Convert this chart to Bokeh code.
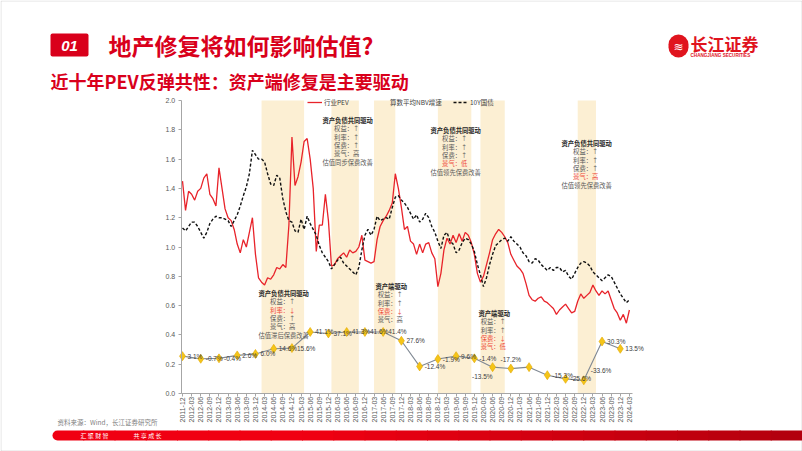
import numpy as np
from bokeh.plotting import figure
from bokeh.models import (Range1d, FixedTicker, PrintfTickFormatter, Label,
                          BoxAnnotation, Legend, LegendItem)
from bokeh.core.properties import value
from bokeh.embed import file_html
from bokeh.resources import INLINE

# ---------------- data ----------------
quarters = ["2011-12",
            "2012-03", "2012-06", "2012-09", "2012-12",
            "2013-03", "2013-06", "2013-09", "2013-12",
            "2014-03", "2014-06", "2014-09", "2014-12",
            "2015-03", "2015-06", "2015-09", "2015-12",
            "2016-03", "2016-06", "2016-09", "2016-12",
            "2017-03", "2017-06", "2017-09", "2017-12",
            "2018-03", "2018-06", "2018-09", "2018-12",
            "2019-03", "2019-06", "2019-09", "2019-12",
            "2020-03", "2020-06", "2020-09", "2020-12",
            "2021-03", "2021-06", "2021-09", "2021-12",
            "2022-03", "2022-06", "2022-09", "2022-12",
            "2023-03", "2023-06", "2023-09", "2023-12",
            "2024-03"]

# monthly observations, 2011-12 .. 2024-03
pev = [1.45, 1.25, 1.38, 1.36, 1.32, 1.38, 1.40, 1.47, 1.50, 1.36,
       1.33, 1.28, 1.54, 1.40, 1.26, 1.20, 1.18, 1.12, 1.02, 0.96,
       1.05, 1.00, 1.10, 1.20, 0.95, 0.79, 0.76, 0.74, 0.79, 0.78,
       0.81, 0.86, 0.85, 0.88, 0.86, 1.15, 1.75, 1.42, 1.48, 1.58,
       1.72, 1.74, 1.60, 1.40, 0.97, 1.15, 1.15, 1.36, 1.18, 0.87,
       0.88, 0.92, 0.94, 0.96, 0.93, 0.98, 0.96, 0.97, 1.00, 1.08,
       0.91, 0.90, 0.89, 0.90, 1.05, 1.14, 1.18, 1.21, 1.25, 1.30,
       1.50, 1.40, 1.27, 1.12, 1.14, 1.04, 1.02, 0.95, 1.02, 0.96,
       1.02, 1.03, 0.96, 0.92, 0.73, 0.82, 0.98, 1.06, 1.02, 1.08,
       1.03, 1.09, 1.04, 1.10, 1.08, 1.03, 0.95, 0.82, 0.76, 0.80,
       0.88, 0.96, 1.05, 1.09, 1.12, 1.10, 1.07, 1.03, 0.95, 0.91,
       0.87, 0.85, 0.82, 0.75, 0.67, 0.64, 0.63, 0.65, 0.66, 0.63,
       0.62, 0.60, 0.58, 0.54, 0.57, 0.59, 0.61, 0.58, 0.55, 0.56,
       0.63, 0.68, 0.65, 0.67, 0.69, 0.74, 0.70, 0.67, 0.70, 0.68,
       0.70, 0.64, 0.58, 0.55, 0.50, 0.54, 0.48, 0.57]

bond10y = [1.13, 1.11, 1.14, 1.17, 1.17, 1.14, 1.10, 1.06, 1.10, 1.16,
           1.19, 1.21, 1.20, 1.20, 1.19, 1.18, 1.14, 1.18, 1.22, 1.28,
           1.35, 1.41, 1.50, 1.66, 1.63, 1.60, 1.60, 1.58, 1.50, 1.43,
           1.42, 1.49, 1.47, 1.33, 1.24, 1.18, 1.17, 1.11, 1.10, 1.19,
           1.12, 1.21, 1.16, 1.12, 1.08, 1.01, 0.96, 0.93, 0.90, 0.85,
           0.88, 0.91, 0.93, 0.89, 0.87, 0.85, 0.83, 0.81, 0.86, 0.98,
           1.08, 1.12, 1.08, 1.12, 1.21, 1.18, 1.19, 1.20, 1.19, 1.27,
           1.34, 1.35, 1.32, 1.30, 1.27, 1.23, 1.19, 1.22, 1.17, 1.19,
           1.23, 1.20, 1.14, 1.10, 1.04, 0.99, 1.08, 1.10, 1.04, 1.02,
           0.96, 0.98, 1.03, 1.06, 1.05, 1.02, 0.97, 0.88, 0.81, 0.73,
           0.79, 0.88, 0.95, 1.01, 1.03, 1.05, 1.06, 1.04, 1.07, 1.04,
           1.02, 1.00, 0.96, 0.94, 0.90, 0.89, 0.92, 0.91, 0.88, 0.86,
           0.84, 0.86, 0.84, 0.86, 0.86, 0.83, 0.84, 0.80, 0.78, 0.82,
           0.86, 0.89, 0.90, 0.89, 0.87, 0.83, 0.81, 0.79, 0.77, 0.79,
           0.81, 0.80, 0.76, 0.72, 0.68, 0.65, 0.62, 0.64]

nbv_dates = quarters[0::2]
nbv_level = [0.255, 0.237, 0.240, 0.260, 0.270, 0.305, 0.310, 0.420, 0.410,
             0.420, 0.420, 0.420, 0.360, 0.185, 0.235, 0.255, 0.240, 0.180,
             0.170, 0.180, 0.125, 0.100, 0.090, 0.355, 0.305]
nbv_labels = ["3.1%", "-0.7%", "-0.4%", "2.6%", "6.0%", "14.6%", "15.6%",
              "41.1%", "37.1%", "41.3%", "41.6%", "41.4%", "27.6%", "-12.4%",
              "-1.9%", "9.6%", "-1.4%", "-13.5%", "-17.2%", "", "-15.3%",
              "-25.6%", "-33.6%", "30.3%", "13.5%"]

bands = [("2014-02", "2015-04"), ("2016-01", "2016-10"), ("2017-03", "2017-10"),
         ("2018-12", "2019-11"), ("2020-02", "2020-10"), ("2022-10", "2023-04")]

legend_names = ["行业PEV", "算数平均NBV增速", "10Y国债"]
y_ticks = [0.0, 0.2, 0.4, 0.6, 0.8, 1.0, 1.2, 1.4, 1.6, 1.8, 2.0]

# ---------------- layout constants ----------------
CJK = "Noto Sans CJK SC"
LAT = "Liberation Sans"
W, H = 802, 451
RED = "#D9001B"
X_LO, X_HI = -0.11, 49.34          # category-index extent of the chart area
Y_LO, Y_HI = 0.0, 2.0


def month_pos(s):
    y, m = map(int, s.split("-"))
    return ((y - 2011) * 12 + (m - 12)) / 3.0


q_index = {q: i for i, q in enumerate(quarters)}
x_month = np.arange(len(pev)) / 3.0

# whole slide is the plot frame; chart area sits at px 181..632 x 100..393
PX_PER_Q = 451.0 / (X_HI - X_LO)
PX_PER_Y = 293.0 / (Y_HI - Y_LO)
x_range = Range1d(X_LO - 181 / PX_PER_Q, X_HI + (W - 632) / PX_PER_Q)
y_range = Range1d(Y_LO - (H - 393) / PX_PER_Y, Y_HI + 100 / PX_PER_Y)

p = figure(width=W, height=H, output_backend="svg", toolbar_location=None,
           x_range=x_range, y_range=y_range,
           x_axis_location="above", y_axis_location="right",
           min_border=0)
p.title.visible = False
p.outline_line_color = None
p.xgrid.visible = False
p.ygrid.visible = False
p.background_fill_color = "white"
p.border_fill_color = "white"

# axes (placed on the chart area with fixed_location)
p.xaxis.fixed_location = Y_LO
p.xaxis.bounds = (X_LO, X_HI)
p.xaxis.ticker = FixedTicker(ticks=list(range(len(quarters))))
p.xaxis.major_label_overrides = {i: q for i, q in enumerate(quarters)}
p.xaxis.major_label_orientation = np.pi / 2
p.xaxis.major_label_standoff = -29
p.yaxis.fixed_location = X_LO
p.yaxis.bounds = (Y_LO, Y_HI)
p.yaxis.ticker = FixedTicker(ticks=y_ticks)
p.yaxis.formatter = PrintfTickFormatter(format="%.1f")
p.yaxis.major_label_standoff = -16
for ax in (p.xaxis, p.yaxis):
    ax.axis_line_color = "#A6A6A6"
    ax.major_tick_line_color = "#A6A6A6"
    ax.minor_tick_line_color = None
    ax.major_tick_out = 0
    ax.major_tick_in = 3
    ax.major_label_text_font_size = "7px"
    ax.major_label_text_color = "#595959"
    ax.major_label_text_font = LAT

# shaded periods
for a, b in bands:
    p.add_layout(BoxAnnotation(left=month_pos(a), right=month_pos(b),
                               bottom=Y_LO, top=Y_HI,
                               fill_color="#FCEFD3", fill_alpha=1.0,
                               line_color=None, level="underlay"))

# series
r_pev = p.line(x_month, pev, line_color="#E8232A", line_width=1.3)
r_bond = p.line(x_month, bond10y, line_color="#111111", line_width=1.4,
                line_dash="3 2")
nbv_x = [q_index[q] for q in nbv_dates]
p.line(nbv_x, nbv_level, line_color="#7F8893", line_width=1.1)
p.scatter(nbv_x, nbv_level, marker="diamond", size=9,
          fill_color="#F5C518", line_color="#E2A800", line_width=0.6)
r_nbv_leg = p.line([], [], line_color="#EEB422", line_width=1.5)

# NBV data labels
label_style = {"-13.5%": (0, -9, "right"), "-17.2%": (0, 9, "center"),
               "-33.6%": (7, 10, "left")}
for xi, yi, s in zip(nbv_x, nbv_level, nbv_labels):
    if not s:
        continue
    dx, dy, al = label_style.get(s, (5, 0, "left"))
    p.add_layout(Label(x=xi, y=yi, x_offset=dx, y_offset=dy, text=s,
                       text_align=al, text_baseline="middle",
                       text_font=LAT, text_font_size="6.5px",
                       text_color="#404040"))

# legends (one per item to match positions)
for r, name, lx in zip([r_pev, r_nbv_leg, r_bond], legend_names, [307, 373, 453]):
    lg = Legend(items=[LegendItem(label=value(name), renderers=[r])],
                location=(lx, H - 107), orientation="horizontal",
                background_fill_alpha=0, border_line_color=None,
                padding=0, margin=0, spacing=0, label_standoff=2,
                glyph_width=15, glyph_height=8, label_height=8,
                label_text_font=CJK, label_text_font_size="6.5px",
                label_text_color="#404040")
    p.add_layout(lg)


# ---------------- text helpers (slide pixel coordinates) ----------------
def put(cx, cy, s, size, color, style="normal", align="left", font=CJK):
    p.add_layout(Label(x=cx, y=H - cy, x_units="screen", y_units="screen",
                       text=s, text_font=font, text_font_size=f"{size}px",
                       text_color=color, text_font_style=style,
                       text_align=align, text_baseline="middle"))


def box(cx0, cy0, cx1, cy1, fill, line=None, radius=0, alpha=1.0, lw=1):
    p.add_layout(BoxAnnotation(left=cx0, right=cx1, top=H - cy0, bottom=H - cy1,
                               left_units="screen", right_units="screen",
                               top_units="screen", bottom_units="screen",
                               fill_color=fill, fill_alpha=alpha,
                               line_color=line, line_width=lw,
                               border_radius=radius, level="underlay"))


# annotation blocks
GREY = "#595959"
PINK = "#EE4B3C"
blocks = [
    (322, 120, "资产负债共同驱动",
     [("权益：↑", 0), ("利率：↑", 0), ("保费：↑", 0), ("景气：高", 0)], "估值同步保费改善"),
    (430, 130, "资产负债共同驱动",
     [("权益：↑", 0), ("利率：↑", 0), ("保费：↑", 0), ("景气：低", 1)], "估值领先保费改善"),
    (561, 143, "资产负债共同驱动",
     [("权益：↑", 0), ("利率：↑", 0), ("保费：↑", 0), ("景气：高", 1)], "估值领先保费改善"),
    (258, 293, "资产负债共同驱动",
     [("权益：↑", 0), ("利率：↓", 1), ("保费：↑", 0), ("景气：高", 0)], "估值滞后保费改善"),
    (375, 286, "资产端驱动",
     [("权益：↑", 0), ("利率：↑", 0), ("保费：↓", 1), ("景气：高", 0)], None),
    (478, 313, "资产端驱动",
     [("权益：↑", 0), ("利率：↑", 0), ("保费：↓", 1), ("景气：低", 1)], None),
]
LS = 8.3
for bx, by, head, items, foot in blocks:
    hw = len(head) * 6.3
    put(bx, by, head, 6.3, "#262626", style="bold")
    for k, (s, hot) in enumerate(items):
        put(bx + hw / 2 - 1, by + LS * (k + 1), s, 6.3, PINK if hot else GREY,
            align="center")
    if foot:
        put(bx, by + LS * 5, foot, 6.3, GREY)

# ---------------- slide decoration ----------------
box(0.5, 0.5, W - 0.5, H - 0.5, None, line="#9A9A9A", lw=1)
box(50, 33, 88, 56, RED, radius=2)
put(69, 45, "01", 15, "white", style="bold italic", align="center", font=LAT)
put(108, 44, "地产修复将如何影响估值?", 23, RED, style="bold")
put(50, 80, "近十年PEV反弹共性：资产端修复是主要驱动", 18, RED, style="bold")

# logo
box(668, 34, 688, 57, "#E0141E", radius=10)
put(678, 46, "≋", 12, "white", align="center", font="DejaVu Sans")
put(690, 43, "长江证券", 17, "#E0141E", style="bold")
put(690, 55, "CHANGJIANG SECURITIES", 4.6, "#E0141E", style="bold", font=LAT)

# source + footer bar
put(57, 421, "资料来源：Wind，长江证券研究所", 6.5, "#7F7F7F")
n = 24
x_edges = np.linspace(52, 802, n + 1)
c0 = np.array([0xF0, 0x00, 0x12])
c1 = np.array([0xB0, 0x00, 0x0E])
for i in range(n):
    t = max(0.0, (x_edges[i] - 300) / 500.0)
    c = (c0 * (1 - t) + c1 * t).astype(int)
    col = "#%02X%02X%02X" % tuple(c)
    rad = (5, 0, 0, 5) if i == 0 else 0
    box(x_edges[i] - (0 if i == 0 else 0.5), 430, x_edges[i + 1] + 0.5, 440,
        col, radius=rad)
put(80, 435, "汇 聚 财 智", 6, "white")
put(133, 435, "共 享 成 长", 6, "white")

open("out.html", "w").write(file_html(p, INLINE))
